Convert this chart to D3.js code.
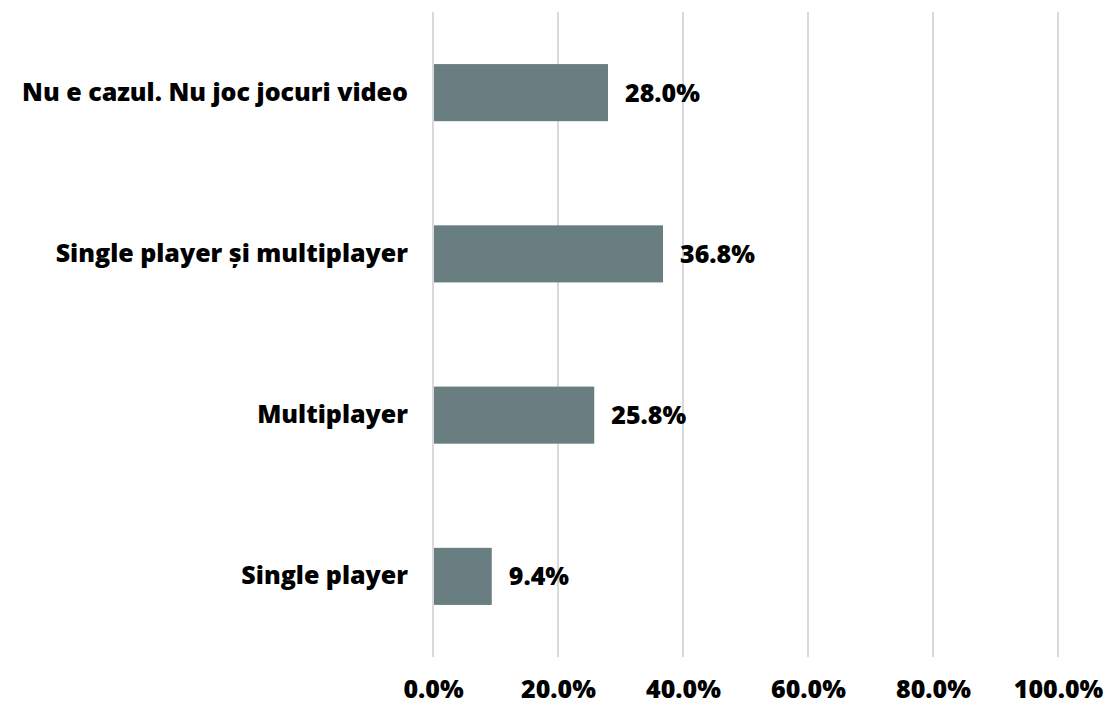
<!DOCTYPE html>
<html>
<head>
<meta charset="utf-8">
<script src="https://cdn.jsdelivr.net/npm/d3@7"></script>
<style>
  body { margin: 0; background: #fff; }
  svg text { font-family: "Open Sans", sans-serif; font-weight: 800; fill: #000; font-size: 25px; }
</style>
</head>
<body>
<svg width="1115" height="704"></svg>
<script>
const categories = ['Nu e cazul. Nu joc jocuri video', 'Single player și multiplayer', 'Multiplayer', 'Single player'];
const values = [28.0, 36.8, 25.8, 9.4];
const ticks = [0, 20, 40, 60, 80, 100];

const svg = d3.select('svg');
const margin = {left: 433, right: 57, top: 12, bottom: 47};
const width = 1115 - margin.left - margin.right;
const height = 704 - margin.top - margin.bottom;

const x = d3.scaleLinear().domain([0, 100]).range([0, width]);
const y = d3.scaleBand().domain(categories).range([0, height])
    .paddingInner(0.646).paddingOuter(0.323);

const g = svg.append('g').attr('transform', `translate(${margin.left},${margin.top})`);

// gridlines
g.selectAll('line.grid')
  .data(ticks)
  .join('line')
  .attr('class', 'grid')
  .attr('x1', d => x(d)).attr('x2', d => x(d))
  .attr('y1', 0).attr('y2', height)
  .attr('stroke', '#d9d9d9')
  .attr('stroke-width', 2);

// x axis labels
const xAxis = g.append('g')
  .attr('transform', `translate(0,${height})`)
  .call(d3.axisBottom(x).tickValues(ticks).tickFormat(d => d.toFixed(1) + '%').tickSize(0));
xAxis.select('.domain').remove();
xAxis.selectAll('text').attr('y', 41).attr('dy', null);
xAxis.attr('font-size', null).attr('font-family', null);

// y labels
const yAxis = g.append('g')
  .call(d3.axisLeft(y).tickSize(0).tickPadding(25));
yAxis.select('.domain').remove();
yAxis.attr('font-size', null).attr('font-family', null);

// bars
g.selectAll('rect.bar')
  .data(values)
  .join('rect')
  .attr('class', 'bar')
  .attr('x', x(0) + 1)
  .attr('y', (d, i) => y(categories[i]))
  .attr('width', d => x(d) - x(0) - 1)
  .attr('height', y.bandwidth())
  .attr('fill', '#687e80');

// value labels
g.selectAll('text.val')
  .data(values)
  .join('text')
  .attr('class', 'val')
  .attr('x', d => x(d) + 17)
  .attr('y', (d, i) => y(categories[i]) + y.bandwidth() / 2)
  .attr('dy', '0.36em')
  .text(d => d.toFixed(1) + '%');
</script>
</body>
</html>
